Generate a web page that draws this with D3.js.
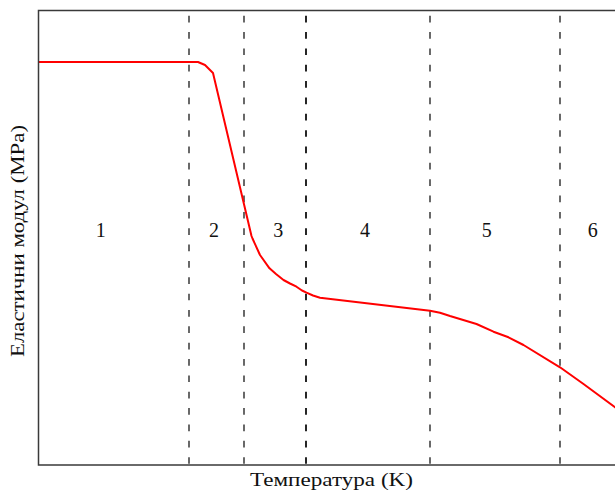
<!DOCTYPE html>
<html>
<head>
<meta charset="utf-8">
<script src="https://cdn.jsdelivr.net/npm/d3@7"></script>
<style>
  html, body { margin: 0; padding: 0; background: #fff; }
  svg { display: block; }
  text { font-family: "Liberation Serif", "DejaVu Serif", serif; fill: #111; }
</style>
</head>
<body>
<svg id="chart" width="615" height="492"></svg>
<script>
// Elastic modulus vs. temperature (arbitrary units, no ticks)
const temperature = [0, 159.5, 166.5, 174.5, 213, 214, 221.5, 231, 237.5, 245, 251.5, 258, 263.5, 268, 274.5, 281.5, 391.5, 401.5, 411.5, 438, 455, 470, 485, 521.5, 545, 576.5, 580];
const modulus     = [403, 403, 400, 392, 229, 226.5, 210, 196.7, 191, 185, 181.5, 178.3, 174.5, 172.3, 169.5, 167.3, 154.3, 152.3, 149, 141, 133.3, 127.7, 120, 97.7, 81, 57.7, 55];

// Region boundaries (dashed verticals) and region numbers
const boundaries   = [150.5, 205.5, 267.5, 391.5, 521.5];
const boundaryDark = [false, false, true, false, false];
const regionLabels = ["1", "2", "3", "4", "5", "6"];
const regionLabelX = [62.2, 175.5, 239.8, 326.5, 448.2, 554.2];
const regionLabelY = 232;

const xLabel = "Температура (K)";
const yLabel = "Еластични модул (MPa)";

const svg = d3.select("#chart");
const margin = { left: 38.5, top: 10.5, bottom: 465, right: 618.5 };

const x = d3.scaleLinear().domain([0, 580]).range([margin.left, margin.right]);
const y = d3.scaleLinear().domain([0, 454.5]).range([margin.bottom, margin.top]);

svg.append("defs").append("clipPath").attr("id", "plot")
  .append("rect")
  .attr("x", margin.left).attr("y", margin.top)
  .attr("width", margin.right - margin.left).attr("height", margin.bottom - margin.top);

// Dashed region boundaries
const dashPeriod = 16.35;
svg.append("g").selectAll("line").data(boundaries).join("line")
  .attr("x1", d => x(d)).attr("x2", d => x(d))
  .attr("y1", y(y.domain()[1])).attr("y2", y(0))
  .attr("stroke", (d, i) => boundaryDark[i] ? "#000" : "#2a2a2a")
  .attr("stroke-width", (d, i) => boundaryDark[i] ? 1.7 : 1.4)
  .attr("stroke-dasharray", "6.7," + (dashPeriod - 6.7))
  .attr("stroke-dashoffset", dashPeriod - 5.2);

// Modulus curve
const line = d3.line().x((d, i) => x(temperature[i])).y((d, i) => y(modulus[i]));
svg.append("path")
  .datum(modulus)
  .attr("clip-path", "url(#plot)")
  .attr("d", line)
  .attr("fill", "none")
  .attr("stroke", "#ff0000")
  .attr("stroke-width", 2)
  .attr("stroke-linejoin", "round");

// Region numbers
svg.append("g").selectAll("text").data(regionLabels).join("text")
  .attr("x", (d, i) => x(regionLabelX[i]))
  .attr("y", regionLabelY)
  .attr("text-anchor", "middle")
  .attr("dominant-baseline", "middle")
  .attr("font-size", 20)
  .text(d => d);

// Axes frame (left, top, bottom)
const frame = d3.path();
frame.moveTo(x(580) + 5, y(454.5));
frame.lineTo(x(0), y(454.5));
frame.lineTo(x(0), y(0));
frame.lineTo(x(580) + 5, y(0));
svg.append("path")
  .attr("d", frame.toString())
  .attr("fill", "none")
  .attr("stroke", "#3a3a3a")
  .attr("stroke-width", 1.5);

// Axis titles
svg.append("text")
  .attr("x", 331.5).attr("y", 486)
  .attr("text-anchor", "middle")
  .attr("font-size", 19)
  .attr("textLength", 163)
  .attr("lengthAdjust", "spacingAndGlyphs")
  .text(xLabel);

svg.append("text")
  .attr("transform", "translate(24,241) rotate(-90)")
  .attr("text-anchor", "middle")
  .attr("font-size", 19)
  .attr("textLength", 232)
  .attr("lengthAdjust", "spacingAndGlyphs")
  .text(yLabel);
</script>
</body>
</html>
